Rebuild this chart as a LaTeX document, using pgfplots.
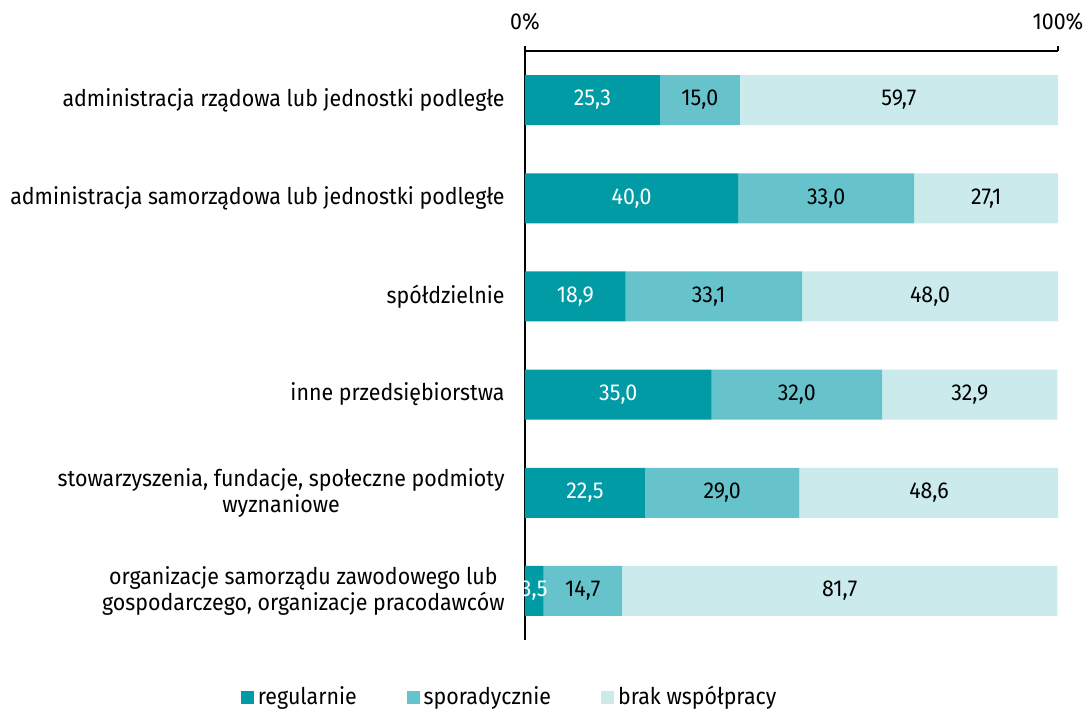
\documentclass[border=0pt]{standalone}
\usepackage{pgfplots}
\pgfplotsset{compat=1.18}
\usepackage{fontspec}
\setmainfont[FakeStretch=0.93]{Fira Sans}
\definecolor{creg}{HTML}{009BA5}
\definecolor{cspo}{HTML}{66C3CC}
\definecolor{cbrak}{HTML}{CBEAEC}
\begin{document}
\fontsize{11.5}{13}\selectfont
\begin{tikzpicture}
\useasboundingbox (-262.5pt,-34.5pt) rectangle (280pt,320pt);
\begin{axis}[
  at={(0,0)}, anchor=south west,
  scale only axis, width=266.5pt, height=294.5pt,
  xbar stacked, bar width=25pt,
  xmin=0, xmax=100, ymin=-0.5, ymax=5.5, y dir=reverse,
  enlargelimits=false, clip=true,
  axis x line*=top, axis y line*=left,
  axis line style={-, line width=0.65pt, black},
  xtick={0,100}, xticklabels={0\%,100\%},
  tick align=outside, major tick length=2.5pt,
  xtick style={line width=0.65pt, black},
  xticklabel style={anchor=south, inner sep=0pt, yshift=7.5pt},
  ytick={0,1,2,3,4,5},
  yticklabels={administracja rządowa lub jednostki podległe,
    administracja samorządowa lub jednostki podległe,
    spółdzielnie,
    inne przedsiębiorstwa,
    {stowarzyszenia, fundacje, społeczne podmioty\\wyznaniowe},
    {organizacje samorządu zawodowego lub\\gospodarczego, organizacje pracodawców}},
  ytick style={draw=none},
  yticklabel style={align=center, anchor=east, inner sep=0pt, xshift=-7.5pt},
  legend columns=3,
  legend style={draw=none, fill=none, at={(-0.027,-0.097)}, anchor=center,
    /tikz/every even column/.append style={column sep=23pt}},
  legend image code/.code={\fill[#1] (0pt,-3.25pt) rectangle (6.5pt,3.25pt);},
]
\addplot[fill=creg, draw=none] coordinates {(25.3,0) (40.0,1) (18.9,2) (35.0,3) (22.5,4) (3.5,5)};
\addplot[fill=cspo, draw=none] coordinates {(15.0,0) (33.0,1) (33.1,2) (32.0,3) (29.0,4) (14.7,5)};
\addplot[fill=cbrak, draw=none] coordinates {(59.7,0) (27.1,1) (48.0,2) (32.9,3) (48.6,4) (81.7,5)};
\legend{regularnie, sporadycznie, brak współpracy}
\end{axis}
\begin{axis}[
  at={(0,0)}, anchor=south west,
  scale only axis, width=266.5pt, height=294.5pt,
  xmin=0, xmax=100, ymin=-0.5, ymax=5.5, y dir=reverse,
  enlargelimits=false, hide axis, clip=false,
  nodes near coords={\pgfmathprintnumber[fixed, fixed zerofill, precision=1, use comma, assume math mode=true]{\pgfplotspointmeta}},
  nodes near coords align={center},
  point meta=explicit,
]
\addplot[draw=none, mark=none, every node near coord/.append style={text=white}] coordinates {
  (12.65,0) [25.3] (20.0,1) [40.0] (9.45,2) [18.9] (17.5,3) [35.0] (11.25,4) [22.5] (1.75,5) [3.5]};
\addplot[draw=none, mark=none, every node near coord/.append style={text=black}] coordinates {
  (32.8,0) [15.0] (56.5,1) [33.0] (34.45,2) [33.1] (51.0,3) [32.0] (37.0,4) [29.0] (10.85,5) [14.7]};
\addplot[draw=none, mark=none, every node near coord/.append style={text=black}] coordinates {
  (70.15,0) [59.7] (86.55,1) [27.1] (76.0,2) [48.0] (83.45,3) [32.9] (75.8,4) [48.6] (59.05,5) [81.7]};
\end{axis}
\end{tikzpicture}
\end{document}
